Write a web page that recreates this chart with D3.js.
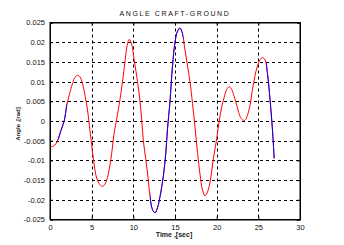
<!DOCTYPE html>
<html>
<head>
<meta charset="utf-8">
<script src="https://cdn.jsdelivr.net/npm/d3@7"></script>
<style>
  body { margin: 0; background: #fff; }
  svg { display: block; font-family: "Liberation Sans", Arial, sans-serif; }
</style>
</head>
<body>
<svg id="chart" width="344" height="245"></svg>
<script>
'use strict';

// angle craft-ground
var time = [0.0, 0.4, 0.7, 1.0, 1.3, 1.7, 2.0, 2.3, 2.7, 3.0, 3.3, 3.6, 3.9, 4.2, 4.5, 4.8,
    5.2, 5.6, 6.0, 6.3, 6.6, 6.9, 7.3, 7.7, 8.0, 8.4, 8.7, 9.0, 9.2, 9.5, 9.8, 10.1, 10.5,
    10.8, 11.0, 11.2, 11.5, 11.8, 12.0, 12.3, 12.6, 12.9, 13.2, 13.6, 13.9, 14.1, 14.4, 14.7,
    15.0, 15.3, 15.6, 15.9, 16.2, 16.5, 16.8, 17.1, 17.4, 17.7, 18.0, 18.3, 18.6, 18.9, 19.2,
    19.6, 20.0, 20.3, 20.6, 20.9, 21.2, 21.5, 21.8, 22.1, 22.5, 22.8, 23.1, 23.4, 23.7, 24.0,
    24.3, 24.6, 24.9, 25.2, 25.5, 25.8, 26.1, 26.4, 26.6, 26.75, 26.9];
var angle = [-0.0065, -0.0064, -0.0058, -0.0045, -0.0025, 0.0000, 0.0038, 0.0065, 0.0095,
    0.0111, 0.0116, 0.0112, 0.0095, 0.0065, 0.0028, -0.0025, -0.0095, -0.0145, -0.0162,
    -0.0166, -0.0160, -0.0143, -0.0098, -0.0030, 0.0005, 0.0055, 0.0100, 0.0150, 0.0185,
    0.0207, 0.0195, 0.0155, 0.0100, 0.0050, 0.0005, -0.0050, -0.0098, -0.0150, -0.0192,
    -0.0225, -0.0233, -0.0220, -0.0192, -0.0140, -0.0080, -0.0020, 0.0050, 0.0140, 0.0200,
    0.0228, 0.0236, 0.0222, 0.0180, 0.0140, 0.0100, 0.0045, -0.0015, -0.0080, -0.0135,
    -0.0175, -0.0190, -0.0180, -0.0155, -0.0097, -0.0045, 0.0000, 0.0035, 0.0060, 0.0080,
    0.0087, 0.0080, 0.0062, 0.0033, 0.0012, 0.0003, 0.0002, 0.0015, 0.0040, 0.0080, 0.0115,
    0.0140, 0.0155, 0.0161, 0.0155, 0.0120, 0.0055, 0.0005, -0.0040, -0.0095];
// time spans drawn in blue
var blueSpans = [[0.9, 2.05], [12.0, 16.0], [25.9, 27.5]];
var xTicks = [0, 5, 10, 15, 20, 25, 30];
var yTicks = [-0.025, -0.02, -0.015, -0.01, -0.005, 0, 0.005, 0.01, 0.015, 0.02, 0.025];

var svg = d3.select('#chart');
var pLeft = 50, pRight = 300, pTop = 22.5, pBottom = 219.5;

var x = d3.scaleLinear().domain([0, 30]).range([pLeft, pRight]);
var y = d3.scaleLinear().domain([-0.025, 0.025]).range([pBottom, pTop]);

var fmt = function(d) { return d === 0 ? '0' : String(+d.toFixed(3)); };

// grid
var grid = svg.append('g').attr('stroke', '#000').attr('stroke-dasharray', '3,3').attr('stroke-width', 1);
grid.selectAll('line.gx').data(xTicks.slice(1, -1)).enter()
    .append('line').attr('class', 'gx')
    .attr('x1', function(d) { return Math.round(x(d)) + 0.5; })
    .attr('x2', function(d) { return Math.round(x(d)) + 0.5; })
    .attr('y1', pTop).attr('y2', pBottom);
grid.selectAll('line.gy').data(yTicks.slice(1, -1)).enter()
    .append('line').attr('class', 'gy')
    .attr('y1', function(d) { return Math.round(y(d)) + 0.5; })
    .attr('y2', function(d) { return Math.round(y(d)) + 0.5; })
    .attr('x1', pLeft).attr('x2', pRight);

// axes
var xAxis = d3.axisBottom(x).tickValues(xTicks).tickSize(-3).tickPadding(5).tickFormat(fmt);
var yAxis = d3.axisLeft(y).tickValues(yTicks).tickSize(-3).tickPadding(5).tickFormat(fmt);
svg.append('g').attr('transform', 'translate(0,' + pBottom + ')').call(xAxis);
svg.append('g').attr('transform', 'translate(' + pLeft + ',0)').call(yAxis);
svg.append('g').attr('transform', 'translate(' + pRight + ',0)')
    .call(d3.axisRight(y).tickValues(yTicks).tickSize(-3).tickFormat(''));
svg.append('g').attr('transform', 'translate(0,' + pTop + ')')
    .call(d3.axisTop(x).tickValues(xTicks).tickSize(-3).tickFormat(''));
svg.selectAll('.domain').attr('stroke', '#000');
svg.selectAll('.tick line').attr('stroke', '#000');
svg.selectAll('.tick text').attr('font-size', 7.5).attr('fill', '#111')
    .attr('font-family', '"Liberation Sans", Arial, sans-serif');
svg.append('rect').attr('x', pLeft).attr('y', pTop).attr('width', pRight - pLeft).attr('height', pBottom - pTop)
    .attr('fill', 'none').attr('stroke', '#000').attr('stroke-width', 1);

// clip rects for the blue spans
var clip = svg.append('defs').append('clipPath').attr('id', 'blueClip');
clip.selectAll('rect').data(blueSpans).enter()
    .append('rect')
    .attr('x', function(d) { return x(d[0]); })
    .attr('width', function(d) { return x(d[1]) - x(d[0]); })
    .attr('y', 0).attr('height', 245);

var pts = time.map(function(t, i) { return [t, angle[i]]; });
var line = d3.line()
    .x(function(d) { return x(d[0]); })
    .y(function(d) { return y(d[1]); })
    .curve(d3.curveCatmullRom);

svg.append('path').datum(pts).attr('d', line)
    .attr('fill', 'none').attr('stroke', '#ff0000').attr('stroke-width', 1);
svg.append('path').datum(pts).attr('d', line).attr('clip-path', 'url(#blueClip)')
    .attr('fill', 'none').attr('stroke', '#0000ff').attr('stroke-width', 1);

// labels
svg.append('text').attr('x', 175).attr('y', 16).attr('text-anchor', 'middle')
    .attr('font-size', 7).attr('letter-spacing', 1.6).attr('fill', '#111')
    .text('ANGLE CRAFT-GROUND');
svg.append('text').attr('x', 174).attr('y', 237).attr('text-anchor', 'middle')
    .attr('font-size', 7).attr('font-weight', 'bold').attr('fill', '#222')
    .text('Time ,[sec]');
svg.append('text').attr('transform', 'translate(20,124) rotate(-90)').attr('text-anchor', 'middle')
    .attr('font-size', 6).attr('font-weight', 'bold').attr('fill', '#222')
    .text('Angle ,[rad]');
</script>
</body>
</html>
